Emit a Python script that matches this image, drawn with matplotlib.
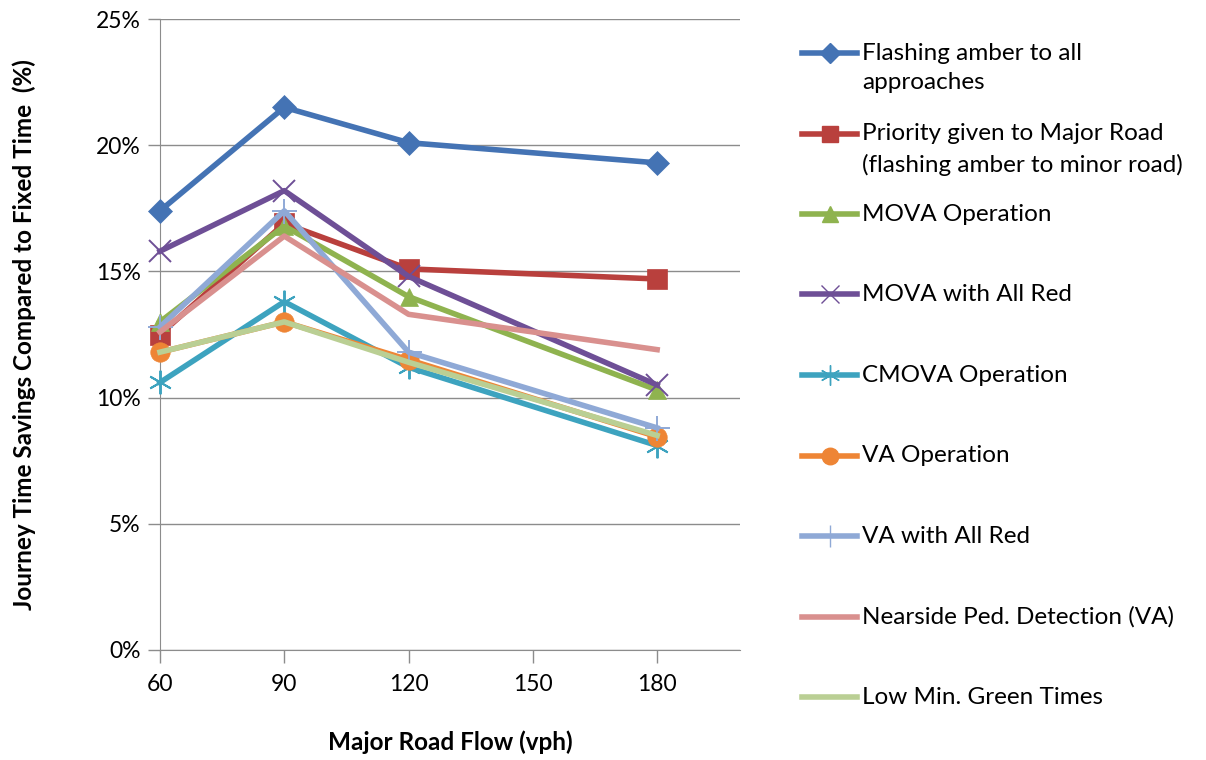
import matplotlib
matplotlib.use("Agg")
import matplotlib.pyplot as plt
from matplotlib.lines import Line2D
from matplotlib.ticker import FuncFormatter

plt.rcParams['font.family'] = ['Lato', 'DejaVu Sans']

# 数据
flows = [60, 90, 120, 180]
labels = [
    "Flashing amber to all\napproaches",
    "Priority given to Major Road\n(flashing amber to minor road)",
    "MOVA Operation",
    "MOVA with All Red",
    "CMOVA Operation",
    "VA Operation",
    "VA with All Red",
    "Nearside Ped. Detection (VA)",
    "Low Min. Green Times",
]
flashing_amber = [17.4, 21.5, 20.1, 19.3]
priority_major = [12.5, 16.9, 15.1, 14.7]
mova = [13.0, 16.8, 14.0, 10.3]
mova_all_red = [15.8, 18.2, 14.8, 10.5]
cmova = [10.6, 13.8, 11.2, 8.1]
va = [11.8, 13.0, 11.5, 8.45]
va_all_red = [12.8, 17.4, 11.8, 8.8]
nearside_ped = [12.6, 16.4, 13.3, 11.9]
low_min_green = [11.8, 13.0, 11.4, 8.5]

series = [flashing_amber, priority_major, mova, mova_all_red, cmova,
          va, va_all_red, nearside_ped, low_min_green]
colors = ['#4473B4', '#B9403D', '#8FB34F', '#6E4F96', '#3DA3BF',
          '#EE8535', '#8FA9D6', '#D9908E', '#BACF94']
markers = ['D', 's', '^', 'x', (6, 2, 0), 'o', '+', None, None]
msizes = [12, 14, 13, 16, 17, 14, 18, 0, 0]

fig = plt.figure(figsize=(12.06, 7.6), dpi=100)
ax = fig.add_axes([160 / 1206, 1 - 650 / 760, 580 / 1206, 631 / 760])

for vals, c, m, ms in zip(series, colors, markers, msizes):
    ax.plot(flows, vals, color=c, lw=4.0, marker=m, markersize=ms,
            markeredgewidth=1.4 if m in ('x', '+', (6, 2, 0)) else 0.5,
            markeredgecolor=c, clip_on=False, zorder=3)

ax.set_xlim(60, 200)
ax.set_ylim(0, 25)
ax.set_xticks([60, 90, 120, 150, 180])
ax.set_yticks([0, 5, 10, 15, 20, 25])
ax.yaxis.set_major_formatter(FuncFormatter(lambda v, p: f"{v:.0f}%"))
ax.grid(axis='y', color='#8C8C8C', lw=1)
ax.set_axisbelow(True)
for s in ['top', 'right']:
    ax.spines[s].set_visible(False)
for s in ['left', 'bottom']:
    ax.spines[s].set_color('#8C8C8C')
ax.tick_params(axis='both', colors='#8C8C8C', labelcolor='black',
               labelsize=16.5, length=9, width=1)
ax.tick_params(axis='y', pad=5)
ax.tick_params(axis='x', pad=8)
ax.set_xlabel("Major Road Flow (vph)", fontsize=17.5, fontweight='bold', labelpad=26)
ax.set_ylabel("Journey Time Savings Compared to Fixed Time  (%)",
              fontsize=17.5, fontweight='bold', labelpad=43)

# 图例（手动放置）
y0 = 53
step = 80.5
for i, (lab, c, m, ms) in enumerate(zip(labels, colors, markers, msizes)):
    y = 1 - (y0 + i * step) / 760
    x1, x2 = 802 / 1206, 857 / 1206
    fig.add_artist(Line2D([x1, x2], [y, y], color=c, lw=4.0,
                          transform=fig.transFigure))
    if m is not None:
        fig.add_artist(Line2D([(x1 + x2) / 2], [y], color=c, marker=m,
                              markersize=ms * 0.85, markeredgecolor=c,
                              markeredgewidth=1.0, transform=fig.transFigure))
    fig.text(862 / 1206, y + 10 / 760, lab, fontsize=17.5, va='top', ha='left',
             linespacing=1.5)

fig.savefig("out.png", dpi=100)
